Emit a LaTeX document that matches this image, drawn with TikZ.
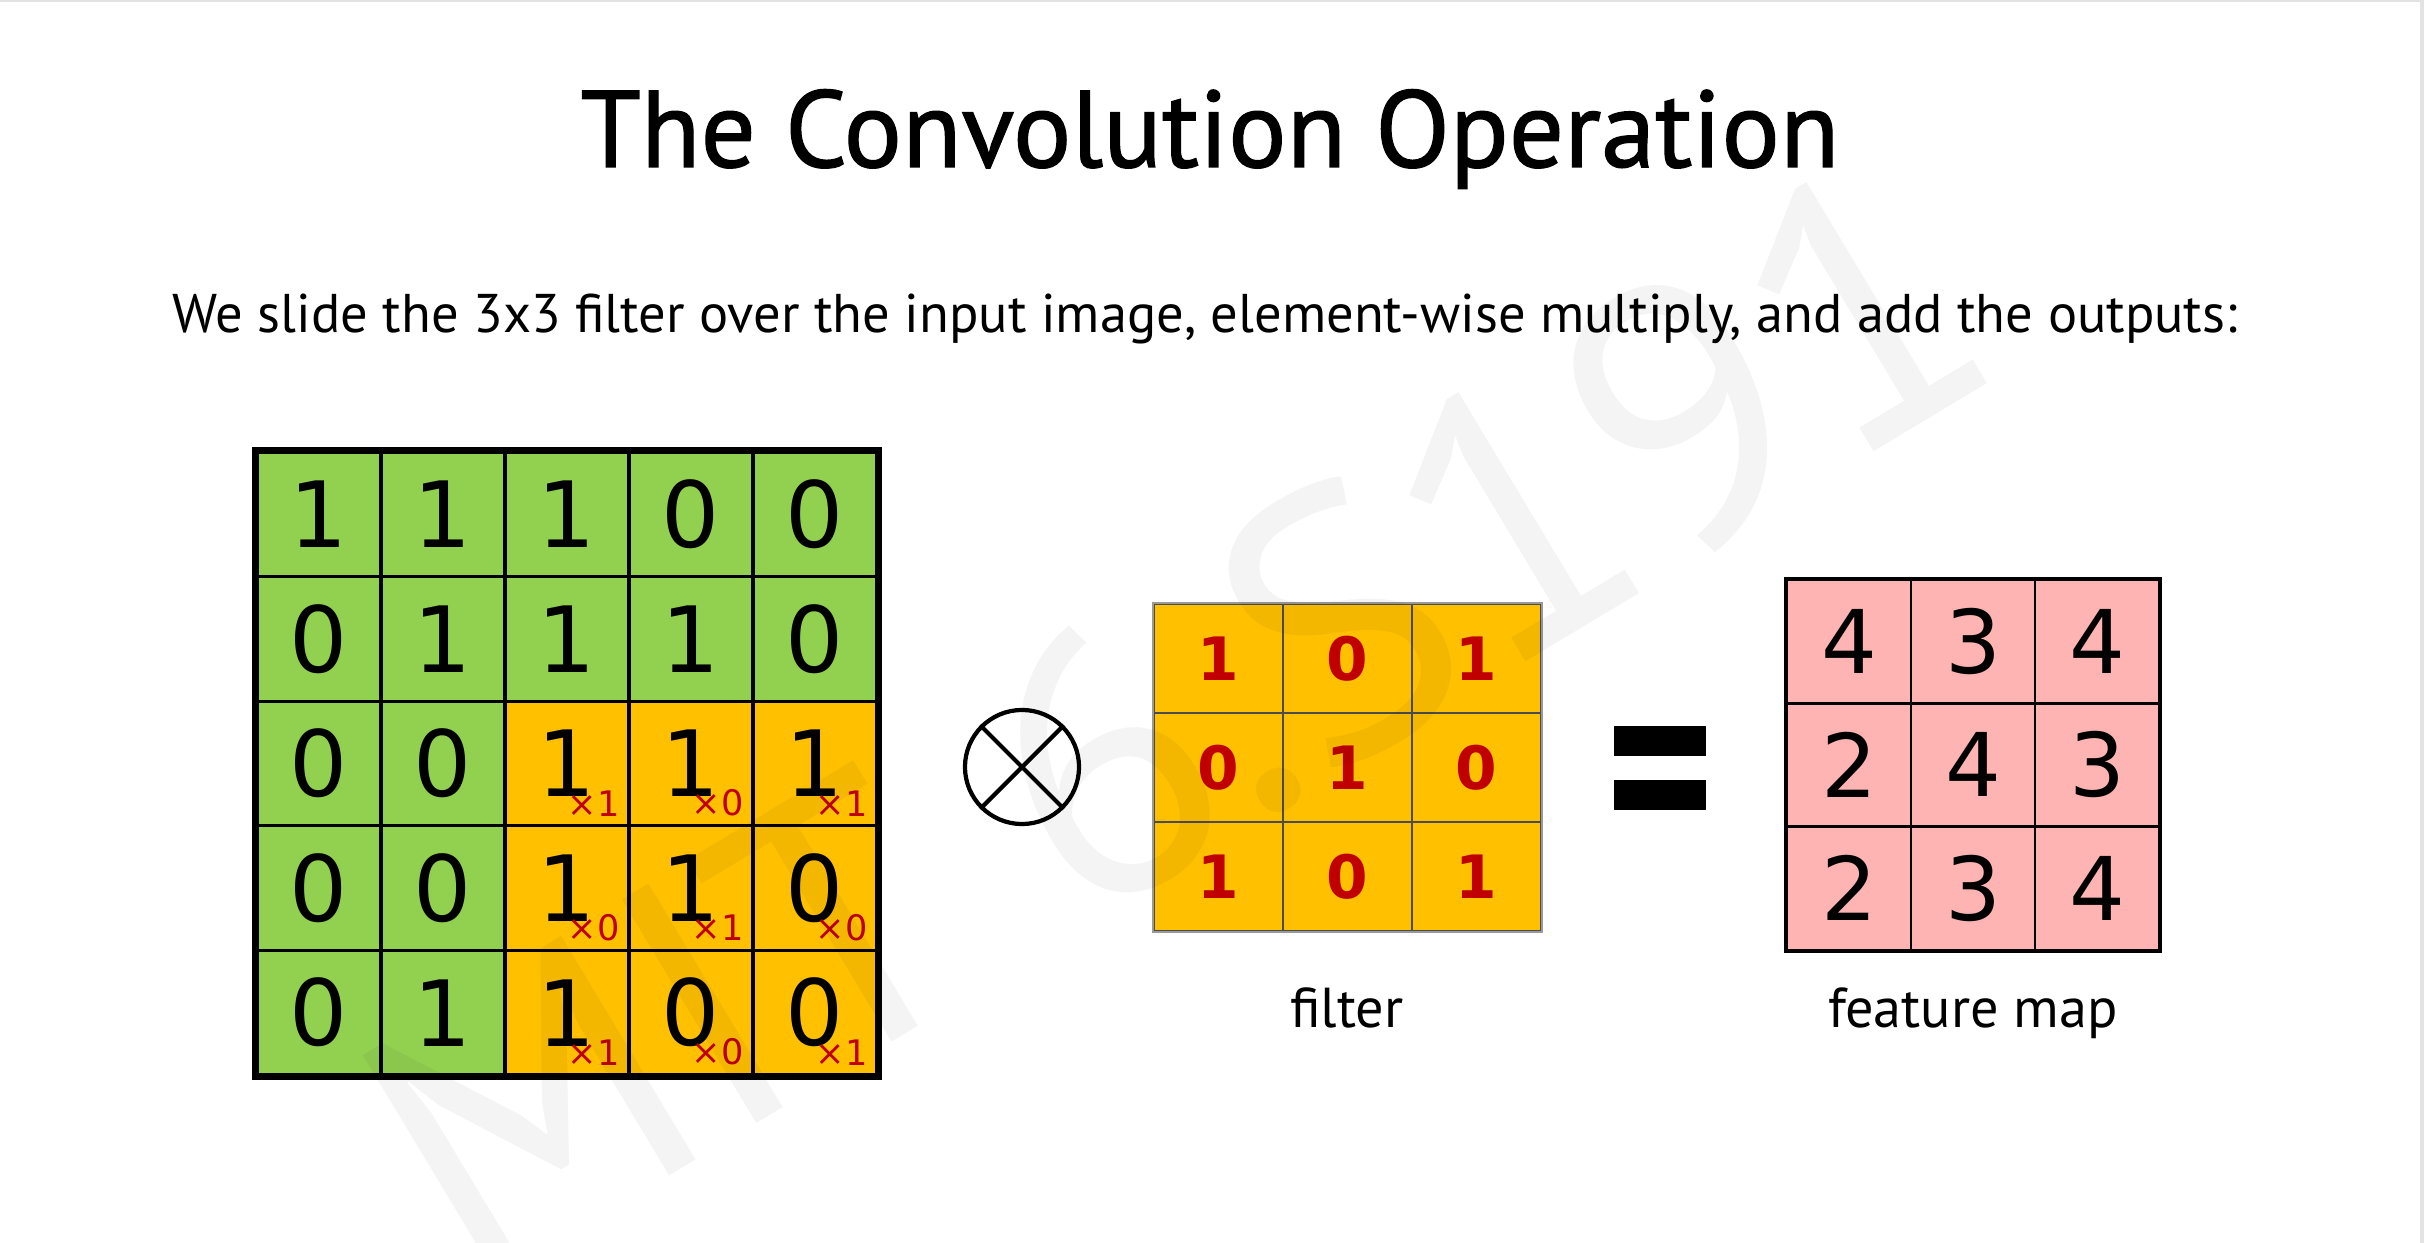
\documentclass[tikz,border=0pt]{standalone}
\usepackage{fontspec}
\setmainfont{PT Sans}
\newfontfamily\titlefont[FakeBold=1.2]{PT Sans}
\newfontfamily\digitfont{DejaVu Sans}
\usetikzlibrary{positioning}
\definecolor{cellgreen}{HTML}{92D050}
\definecolor{cellorange}{HTML}{FFC000}
\definecolor{cellpink}{HTML}{FFB4B4}
\definecolor{weightred}{HTML}{C00000}
\definecolor{framegray}{HTML}{E3E3E3}

\begin{document}
\begin{tikzpicture}[x=0.01cm, y=-0.01cm,
  incell/.style={draw, line width=0.9pt, minimum width=1.24cm, minimum height=1.246cm, inner sep=0pt, font=\digitfont\fontsize{26}{26}\selectfont},
  weight/.style={inner sep=0pt, text=weightred, font=\digitfont\fontsize{10}{10}\selectfont},
  filtcell/.style={draw=black!70, line width=0.5pt, fill=cellorange, minimum width=1.29cm, minimum height=1.09cm, inner sep=0pt, text=weightred, font=\digitfont\bfseries\fontsize{17}{17}\selectfont},
  mapcell/.style={draw, line width=0.8pt, fill=cellpink, minimum width=1.24cm, minimum height=1.233cm, inner sep=0pt, font=\digitfont\fontsize{25}{25}\selectfont},
  caption/.style={anchor=base, font=\fontsize{16}{16}\selectfont},
  bar/.style={fill=black, minimum width=0.92cm, minimum height=0.29cm, inner sep=0pt}
]
\useasboundingbox (0,0) rectangle (2424,1243);
\fill[framegray] (0,0) rectangle (2424,2);
\fill[framegray] (2420,0) rectangle (2424,1243);

\node[anchor=base, font=\titlefont\fontsize{31}{31}\selectfont] (title) at (1210,167) {The Convolution Operation};
\node[anchor=base, font=\fontsize{15.5}{15.5}\selectfont] (subtitle) at (1205,333) {We slide the 3x3 filter over the input image, element-wise multiply, and add the outputs:};

% input image, the filter sits on the lower right block
\foreach \r/\vals in {1/{1,1,1,0,0}, 2/{0,1,1,1,0}, 3/{0,0,1,1,1}, 4/{0,0,1,1,0}, 5/{0,1,1,0,0}}{
  \foreach \v [count=\c] in \vals{
    \def\cellfill{cellgreen}
    \ifnum\r>2 \ifnum\c>2 \def\cellfill{cellorange}\fi\fi
    \node[incell, fill=\cellfill] (in-\r-\c) at ({257+124*(\c-0.5)}, {452+124.6*(\r-0.5)}) {\v};
  }
}
\draw[line width=1.7pt] (in-1-1.north west) rectangle (in-5-5.south east);
\foreach \r/\c/\w in {3/3/1, 3/4/0, 3/5/1, 4/3/0, 4/4/1, 4/5/0, 5/3/1, 5/4/0, 5/5/1}
  \node[weight, anchor=south east] (w-\r-\c) at ([xshift=-3pt, yshift=3pt]in-\r-\c.south east) {×\w};

\node[circle, draw, line width=1.2pt, minimum size=1.14cm] (otimes) at (1022,767) {};
\draw[line width=1.2pt] (otimes.north west) -- (otimes.south east);
\draw[line width=1.2pt] (otimes.north east) -- (otimes.south west);

% filter
\foreach \r/\vals in {1/{1,0,1}, 2/{0,1,0}, 3/{1,0,1}}{
  \foreach \v [count=\c] in \vals
    \node[filtcell] (f-\r-\c) at ({1154+129*(\c-0.5)}, {604+109*(\r-0.5)}) {\v};
}
\draw[black!40, line width=0.6pt] (f-1-1.north west) rectangle (f-3-3.south east);
\node[caption] (filtername) at (1347,1027) {filter};

\node[bar] (eqtop) at (1660,741) {};
\node[bar] (eqbottom) at (1660,795) {};

% feature map
\foreach \r/\vals in {1/{4,3,4}, 2/{2,4,3}, 3/{2,3,4}}{
  \foreach \v [count=\c] in \vals
    \node[mapcell] (m-\r-\c) at ({1787+124*(\c-0.5)}, {580+123.3*(\r-0.5)}) {\v};
}
\draw[line width=1.1pt] (m-1-1.north west) rectangle (m-3-3.south east);
\node[caption] (mapname) at (1973,1027) {feature map};

% watermark
\node[rotate=31, text=black, text opacity=0.045, font=\fontsize{106}{106}\selectfont] (mark) at (1175,720) {MIT 6.S191};
\end{tikzpicture}
\end{document}
